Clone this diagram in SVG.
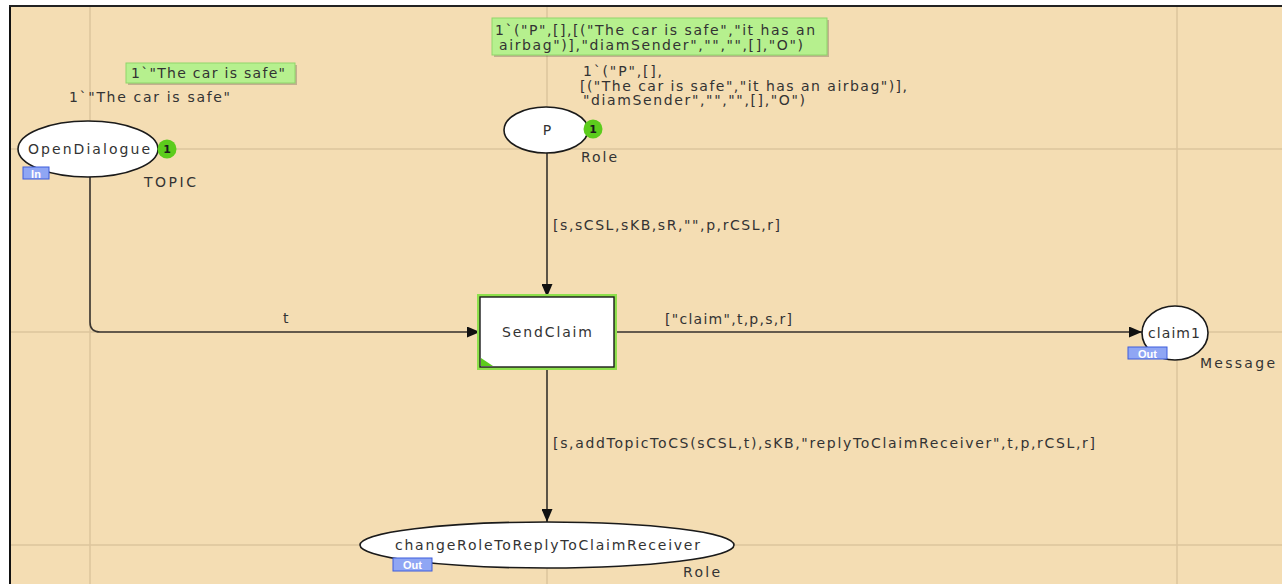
<svg xmlns="http://www.w3.org/2000/svg" width="1282" height="584" viewBox="0 0 1282 584">
<defs>
<style>
.t{font-family:"DejaVu Sans",Verdana,sans-serif;font-size:14px;fill:#333333;}
.place{fill:#ffffff;stroke:#1a1a1a;stroke-width:1.6;}
.grid{stroke:#dcc59c;stroke-width:1.5;fill:none;}
.arc{stroke:#3a3530;stroke-width:1.6;fill:none;}
.lbl{fill:#b6f08e;stroke:#8fd66a;stroke-width:1;}
.shadow{fill:#000;opacity:0.2;}
.tok{fill:#5ccc1c;}
.tokt{font-family:"DejaVu Sans",sans-serif;font-size:11px;font-weight:bold;fill:#1a1a1a;}
.tag{fill:#8fa6f4;stroke:#3d5ddc;stroke-width:1;}
.tagt{font-family:"Liberation Sans",Arial,sans-serif;font-size:11px;font-weight:bold;fill:#ffffff;}
</style>
<marker id="ah" viewBox="0 0 13 11" refX="13" refY="5.5" markerWidth="13" markerHeight="11" markerUnits="userSpaceOnUse" orient="auto">
<path d="M0,0 L13,5.5 L0,11 z" fill="#111"/>
</marker>
</defs>
<rect x="0" y="0" width="1282" height="584" fill="#ffffff"/>
<rect x="11" y="7" width="1271" height="577" fill="#f4ddb3"/>
<line x1="10" y1="6" x2="10" y2="584" stroke="#111" stroke-width="2"/>
<line x1="9" y1="6" x2="1282" y2="6" stroke="#222" stroke-width="2"/>
<g id="grid">
<line class="grid" x1="90" y1="7" x2="90" y2="584"/>
<line class="grid" x1="547" y1="7" x2="547" y2="584"/>
<line class="grid" x1="1177" y1="7" x2="1177" y2="584"/>
<line class="grid" x1="11" y1="149" x2="1282" y2="149"/>
<line class="grid" x1="11" y1="332" x2="1282" y2="332"/>
<line class="grid" x1="11" y1="545" x2="1282" y2="545"/>
</g>
<g id="connectors">
<path class="arc" d="M90,177 L90,322 Q90,332 100,332 L480,332" marker-end="url(#ah)"/>
<text class="t" x="283" y="323">t</text>
<path class="arc" d="M547,153 L547,297" marker-end="url(#ah)"/>
<text class="t" x="553" y="230" textLength="227" lengthAdjust="spacing">[s,sCSL,sKB,sR,"",p,rCSL,r]</text>
<path class="arc" d="M614,332 L1142,332" marker-end="url(#ah)"/>
<text class="t" x="665" y="324" textLength="127" lengthAdjust="spacing">["claim",t,p,s,r]</text>
<path class="arc" d="M547,367 L547,522" marker-end="url(#ah)"/>
<text class="t" x="553" y="448" textLength="542" lengthAdjust="spacing">[s,addTopicToCS(sCSL,t),sKB,"replyToClaimReceiver",t,p,rCSL,r]</text>
</g>
<g id="OpenDialogue">
<ellipse class="place" cx="88" cy="149" rx="70" ry="28"/>
<text class="t" x="28" y="154" textLength="122" lengthAdjust="spacing">OpenDialogue</text>
<circle class="tok" cx="167" cy="149" r="9.5"/>
<text class="tokt" x="167" y="153" text-anchor="middle">1</text>
<rect class="tag" x="23" y="167" width="26" height="12"/>
<text class="tagt" x="36" y="177.5" text-anchor="middle">In</text>
<text class="t" x="144" y="187" textLength="52" lengthAdjust="spacing">TOPIC</text>
<text class="t" x="69" y="102" textLength="161" lengthAdjust="spacing">1`"The car is safe"</text>
<rect class="shadow" x="128" y="65" width="169" height="20"/>
<rect class="lbl" x="126" y="63" width="169" height="20"/>
<text class="t" x="131" y="78" textLength="154" lengthAdjust="spacing">1`"The car is safe"</text>
</g>
<g id="P">
<ellipse class="place" cx="546" cy="130" rx="42" ry="23"/>
<text class="t" x="547" y="135" text-anchor="middle">P</text>
<circle class="tok" cx="593" cy="129" r="9.5"/>
<text class="tokt" x="593" y="133" text-anchor="middle">1</text>
<text class="t" x="581" y="162" textLength="36" lengthAdjust="spacing">Role</text>
<text class="t" x="583" y="76" textLength="79" lengthAdjust="spacing">1`("P",[],</text>
<text class="t" x="580" y="91" textLength="327" lengthAdjust="spacing">[("The car is safe","it has an airbag")],</text>
<text class="t" x="583" y="105" textLength="222" lengthAdjust="spacing">"diamSender","","",[],"O")</text>
<rect class="shadow" x="494" y="20" width="335" height="37"/>
<rect class="lbl" x="492" y="18" width="335" height="37"/>
<text class="t" x="495" y="35" textLength="320" lengthAdjust="spacing">1`("P",[],[("The car is safe","it has an</text>
<text class="t" x="499" y="50" textLength="304" lengthAdjust="spacing">airbag")],"diamSender","","",[],"O")</text>
</g>
<g id="SendClaim">
<rect x="479" y="296" width="136" height="72" fill="none" stroke="#8ee04c" stroke-width="4"/>
<rect x="480" y="297" width="134" height="70" fill="#ffffff" stroke="#1a1a1a" stroke-width="1.4"/>
<path d="M481,366 L481,358 L493,366 z" fill="#5ccc1c"/>
<text class="t" x="502" y="337" textLength="90" lengthAdjust="spacing">SendClaim</text>
</g>
<g id="claim1">
<ellipse class="place" cx="1175" cy="333" rx="33" ry="27"/>
<text class="t" x="1148" y="337.5" textLength="52" lengthAdjust="spacing">claim1</text>
<rect class="tag" x="1128" y="347" width="39" height="12"/>
<text class="tagt" x="1147.5" y="357.5" text-anchor="middle">Out</text>
<text class="t" x="1200" y="368" textLength="75" lengthAdjust="spacing">Message</text>
</g>
<g id="changeRoleToReplyToClaimReceiver">
<ellipse class="place" cx="547" cy="545" rx="187" ry="23"/>
<text class="t" x="395" y="550" textLength="305" lengthAdjust="spacing">changeRoleToReplyToClaimReceiver</text>
<rect class="tag" x="393" y="558" width="39" height="13"/>
<text class="tagt" x="412.5" y="569" text-anchor="middle">Out</text>
<text class="t" x="683" y="577" textLength="37" lengthAdjust="spacing">Role</text>
</g>
</svg>
